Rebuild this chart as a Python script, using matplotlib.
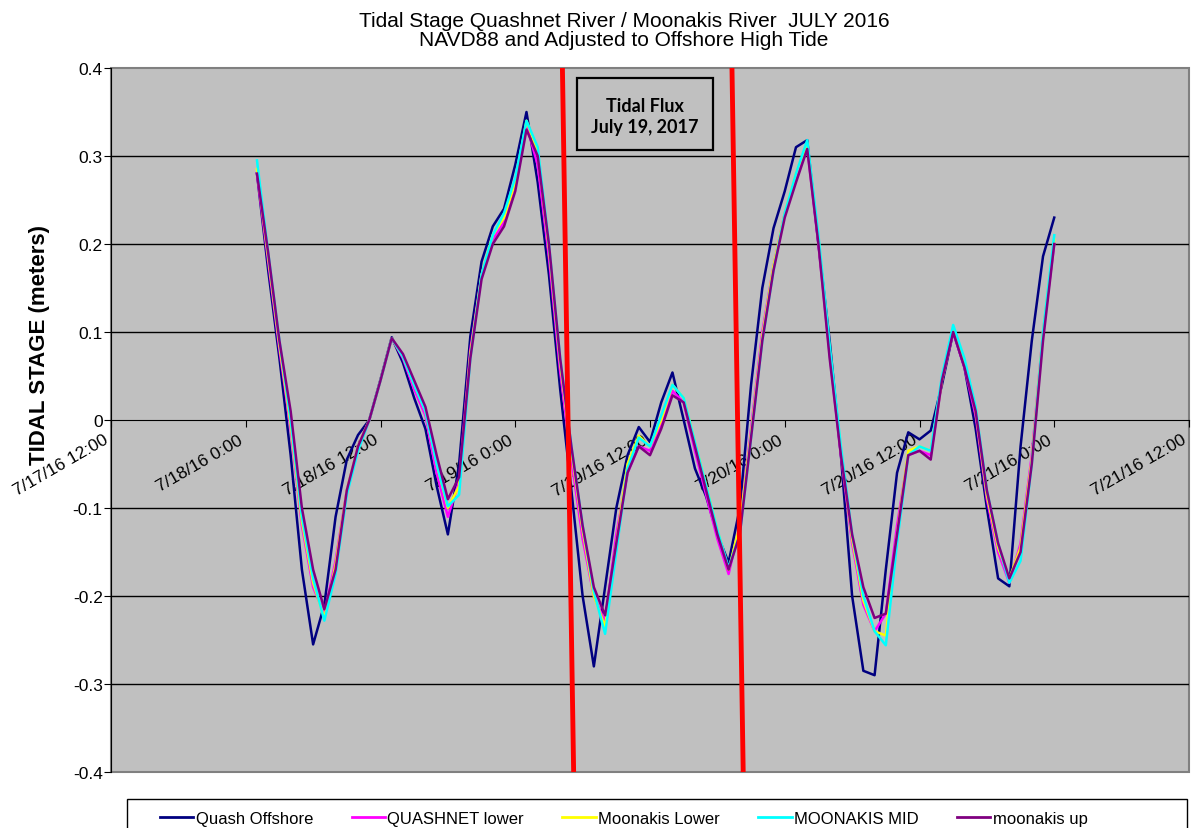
import matplotlib
matplotlib.use('Agg')
import matplotlib.pyplot as plt
from matplotlib.patches import Rectangle
import pandas as pd
from datetime import datetime

# hourly readings, 7/18/16 1:00 -> 7/21/16 0:00
times = pd.date_range('2016-07-18 01:00', periods=72, freq='h')

quash_offshore = [0.28, 0.17, 0.07, -0.04, -0.17, -0.255, -0.21, -0.11, -0.045, -0.017, 0.0, 0.046, 0.094,
                  0.065, 0.025, -0.01, -0.075, -0.13,
                  -0.05, 0.095, 0.18, 0.22, 0.24, 0.29, 0.35,
                  0.27, 0.165, 0.035, -0.08, -0.2, -0.28,
                  -0.19, -0.1, -0.04, -0.008, -0.025, 0.02, 0.054,
                  0.0, -0.055, -0.087, -0.13, -0.162,
                  -0.1, 0.04, 0.15, 0.218, 0.26, 0.31, 0.318,
                  0.2, 0.09, -0.04, -0.2, -0.285, -0.29,
                  -0.17, -0.06, -0.014, -0.022, -0.012, 0.04, 0.1,
                  0.06, -0.01, -0.1, -0.18, -0.189,
                  -0.03, 0.09, 0.186, 0.23]

quashnet_lower = [0.28, 0.18, 0.08, -0.01, -0.12, -0.19, -0.22, -0.16, -0.08, -0.03, 0.0, 0.045, 0.093,
                  0.07, 0.035, 0.005, -0.06, -0.11,
                  -0.07, 0.08, 0.165, 0.205, 0.225, 0.27, 0.335,
                  0.29, 0.185, 0.055, -0.045, -0.135, -0.2,
                  -0.23, -0.13, -0.06, -0.03, -0.035, -0.005, 0.033,
                  0.02, -0.035, -0.085, -0.135, -0.175,
                  -0.12, -0.01, 0.1, 0.175, 0.235, 0.275, 0.31,
                  0.2, 0.075, -0.04, -0.14, -0.21, -0.24,
                  -0.22, -0.12, -0.04, -0.035, -0.04, 0.045, 0.1,
                  0.06, 0.005, -0.09, -0.15, -0.185,
                  -0.14, -0.04, 0.1, 0.2]

moonakis_lower = [0.285, 0.185, 0.085, -0.005, -0.115, -0.185, -0.225, -0.165, -0.08, -0.03, 0.0, 0.045, 0.093,
                  0.072, 0.04, 0.01, -0.05, -0.1,
                  -0.075, 0.075, 0.165, 0.21, 0.23, 0.27, 0.34,
                  0.305, 0.195, 0.065, -0.035, -0.125, -0.2,
                  -0.235, -0.14, -0.05, -0.018, -0.03, 0.0, 0.04,
                  0.025, -0.025, -0.075, -0.125, -0.17,
                  -0.12, -0.015, 0.095, 0.175, 0.235, 0.28, 0.315,
                  0.205, 0.08, -0.035, -0.135, -0.205, -0.24,
                  -0.245, -0.13, -0.035, -0.03, -0.035, 0.045, 0.103,
                  0.065, 0.01, -0.085, -0.145, -0.18,
                  -0.145, -0.045, 0.1, 0.205]

moonakis_mid = [0.295, 0.19, 0.09, 0.0, -0.11, -0.18, -0.228, -0.175, -0.085, -0.035, 0.0, 0.045, 0.093,
                0.072, 0.04, 0.01, -0.05, -0.098,
                -0.085, 0.07, 0.165, 0.21, 0.235, 0.275, 0.34,
                0.31, 0.2, 0.07, -0.03, -0.12, -0.195,
                -0.243, -0.15, -0.055, -0.02, -0.03, 0.005, 0.04,
                0.025, -0.025, -0.075, -0.125, -0.168,
                -0.13, -0.02, 0.09, 0.17, 0.235, 0.28, 0.318,
                0.21, 0.085, -0.03, -0.13, -0.2, -0.24,
                -0.256, -0.14, -0.04, -0.03, -0.035, 0.05, 0.108,
                0.07, 0.015, -0.08, -0.14, -0.185,
                -0.16, -0.05, 0.1, 0.21]

moonakis_up = [0.28, 0.19, 0.09, 0.01, -0.1, -0.17, -0.215, -0.17, -0.08, -0.03, 0.0, 0.045, 0.093,
               0.075, 0.045, 0.015, -0.04, -0.09,
               -0.065, 0.07, 0.16, 0.2, 0.22, 0.26, 0.33,
               0.3, 0.2, 0.07, -0.03, -0.12, -0.19,
               -0.222, -0.14, -0.06, -0.03, -0.04, -0.01, 0.028,
               0.02, -0.03, -0.08, -0.13, -0.17,
               -0.13, -0.02, 0.09, 0.17, 0.23, 0.27, 0.308,
               0.2, 0.07, -0.04, -0.13, -0.19, -0.225,
               -0.22, -0.13, -0.04, -0.035, -0.045, 0.045, 0.1,
               0.06, 0.01, -0.08, -0.14, -0.18,
               -0.15, -0.05, 0.09, 0.2]

series_names = ['Quash Offshore', 'QUASHNET lower', 'Moonakis Lower', 'MOONAKIS MID', 'moonakis up']
series_colors = ['#000080', '#FF00FF', '#FFFF00', '#00FFFF', '#800080']

tick_times = pd.date_range('2016-07-17 12:00', '2016-07-21 12:00', freq='12h')
tick_labels = ['7/17/16 12:00', '7/18/16 0:00', '7/18/16 12:00', '7/19/16 0:00', '7/19/16 12:00',
               '7/20/16 0:00', '7/20/16 12:00', '7/21/16 0:00', '7/21/16 12:00']
y_ticks = [-0.4, -0.3, -0.2, -0.1, 0, 0.1, 0.2, 0.3, 0.4]
y_labels = ['-0.4', '-0.3', '-0.2', '-0.1', '0', '0.1', '0.2', '0.3', '0.4']

# tidal flux window markers (top, bottom)
flux_start = [datetime(2016, 7, 19, 4, 12), datetime(2016, 7, 19, 5, 12)]
flux_end = [datetime(2016, 7, 19, 19, 18), datetime(2016, 7, 19, 20, 18)]

fig = plt.figure(figsize=(11.96, 8.29), dpi=100)
ax = fig.add_axes([111 / 1196, 1 - 773 / 829, 1078 / 1196, 704 / 829])
ax.set_facecolor('#C0C0C0')
ax.patch.set_edgecolor('#808080')
ax.patch.set_linewidth(1.5)

# spine first: moving it resets the ticks
ax.spines['bottom'].set_position(('data', 0))
ax.spines['bottom'].set_color('black')
ax.spines['left'].set_color('black')
ax.spines['top'].set_visible(False)
ax.spines['right'].set_visible(False)

for v in [-0.3, -0.2, -0.1, 0.1, 0.2, 0.3]:
    ax.axhline(v, color='black', lw=1.0, zorder=1)

all_series = [quash_offshore, quashnet_lower, moonakis_lower, moonakis_mid, moonakis_up]
for vals, name, col in zip(all_series, series_names, series_colors):
    ax.plot(times, vals, color=col, lw=1.8, label=name, zorder=3)

for xs in (flux_start, flux_end):
    ax.plot(xs, [0.4, -0.4], color='#FF0000', lw=3.5, zorder=4, clip_on=False,
            solid_capstyle='butt')

ax.set_xlim(tick_times[0], tick_times[-1])
ax.set_ylim(-0.4, 0.4)
ax.tick_params(axis='x', direction='out', length=5, pad=3.5, color='black')
ax.tick_params(axis='y', direction='out', length=5, pad=1, color='black')
ax.set_yticks(y_ticks)
ax.set_yticklabels(y_labels, fontsize=12.5, family='Liberation Sans')
ax.set_xticks(tick_times)
ax.set_xticklabels(tick_labels, fontsize=12.5, family='Liberation Sans')
for lbl in ax.get_xticklabels():
    lbl.set_rotation(30)
    lbl.set_ha('right')
    lbl.set_va('top')
    lbl.set_rotation_mode('default')

# "Tidal Flux" note
ax.add_patch(Rectangle((0.4323, 0.8835), 0.1262, 0.1023, transform=ax.transAxes,
                       fill=False, edgecolor='black', lw=1.6, zorder=5))
ax.text(0.4954, 0.9318, 'Tidal Flux\nJuly 19, 2017', transform=ax.transAxes,
        ha='center', va='center', fontsize=13, fontweight='bold', family='Lato',
        linespacing=1.35, zorder=5)

fig.text(624 / 1196, 1 - 12 / 829,
         'Tidal Stage Quashnet River / Moonakis River  JULY 2016\nNAVD88 and Adjusted to Offshore High Tide',
         ha='center', va='top', fontsize=15, family='Liberation Sans', linespacing=0.97)

fig.text(40 / 1196, 1 - 345 / 829, 'TIDAL STAGE (meters)', rotation=90, ha='center', va='center',
         fontsize=16, fontweight='bold', family='Liberation Sans')

leg = fig.legend(loc='upper left', bbox_to_anchor=(160 / 1196, 1 - 812 / 829),
                 bbox_transform=fig.transFigure, ncol=5,
                 prop={'family': 'Liberation Sans', 'size': 12},
                 handlelength=2.0, handletextpad=0.15, columnspacing=2.3,
                 frameon=False, borderpad=0, borderaxespad=0)
for ln in leg.get_lines():
    ln.set_linewidth(2)
fig.patches.append(Rectangle((127 / 1196, -0.02), 1060 / 1196, 1 - 800 / 829 + 0.02,
                             transform=fig.transFigure, fill=False, edgecolor='black', lw=1.0))

fig.savefig('out.png', dpi=100)
